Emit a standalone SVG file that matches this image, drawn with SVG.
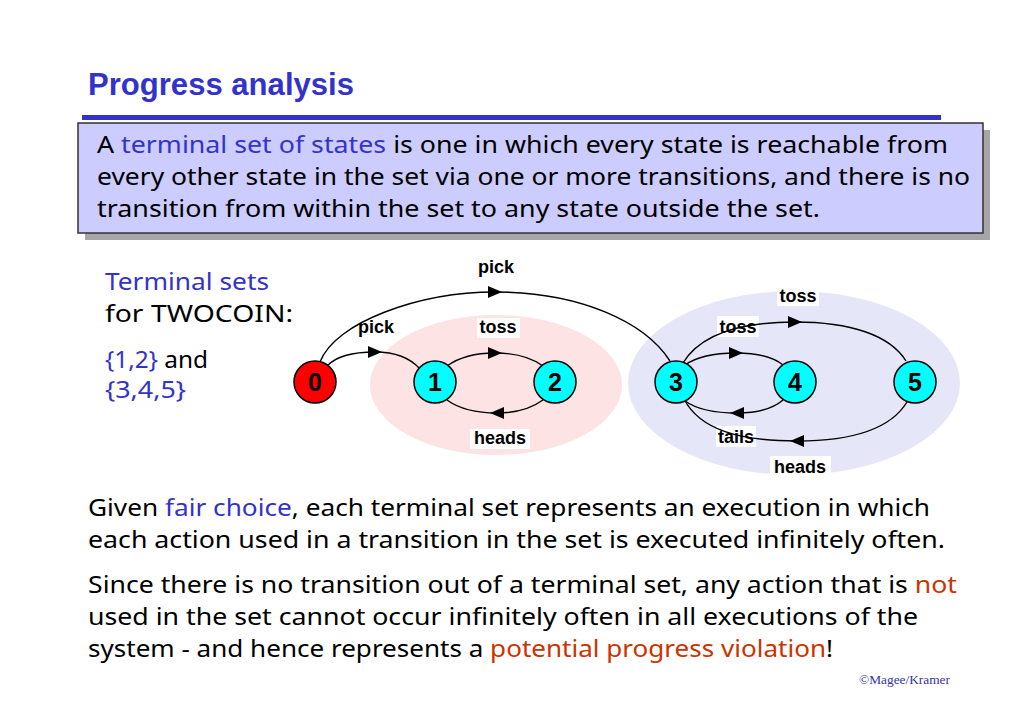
<svg xmlns="http://www.w3.org/2000/svg" width="1023" height="708" viewBox="0 0 1023 708">
<defs>
<marker id="arr" markerUnits="userSpaceOnUse" markerWidth="14" markerHeight="12" refX="7" refY="6" orient="auto" viewBox="0 0 14 12">
<path d="M0,0 L14,6 L0,12 z" fill="#000"/>
</marker>
</defs>
<style>
.body{font-family:"Noto Sans","DejaVu Sans",sans-serif;font-size:23px;fill:#000}
.blue{fill:#3333cc}
.red{fill:#cc3300}
.lbl{font-family:"Liberation Sans",Arial,sans-serif;font-weight:bold;font-size:18px;fill:#000;text-anchor:middle}
.lblbox{fill:#fff}
.edge{fill:none;stroke:#000;stroke-width:1.4;marker-mid:url(#arr)}
.state{stroke:#000;stroke-width:1.5}
.num{font-family:"Liberation Sans",Arial,sans-serif;font-weight:bold;font-size:25px;fill:#000;text-anchor:middle}
</style>
<rect width="1023" height="708" fill="#fff"/>

<g id="title">
<text x="88" y="95" font-family="Liberation Sans, Arial, sans-serif" font-weight="bold" font-size="31" fill="#3333cc" textLength="266" lengthAdjust="spacingAndGlyphs">Progress analysis</text>
<rect x="82" y="115" width="859" height="5" fill="#3333cc"/>
</g>

<g id="definition">
<rect x="85" y="130" width="905" height="110" fill="#a6a6a6"/>
<rect x="78" y="123" width="905" height="110" fill="#ccccff" stroke="#333" stroke-width="1.5"/>
<text class="body" x="97" y="153" textLength="851" lengthAdjust="spacingAndGlyphs">A <tspan class="blue">terminal set of states</tspan> is one in which every state is reachable from</text>
<text class="body" x="97" y="185" textLength="873" lengthAdjust="spacingAndGlyphs">every other state in the set via one or more transitions, and there is no</text>
<text class="body" x="97" y="217" textLength="723" lengthAdjust="spacingAndGlyphs">transition from within the set to any state outside the set.</text>
</g>

<g id="side-text">
<text class="body blue" x="105" y="290" textLength="164" lengthAdjust="spacingAndGlyphs">Terminal sets</text>
<text class="body" x="105" y="322" textLength="188" lengthAdjust="spacingAndGlyphs">for TWOCOIN:</text>
<text class="body" x="105" y="368" textLength="103" lengthAdjust="spacingAndGlyphs"><tspan class="blue">{1,2}</tspan> and</text>
<text class="body blue" x="105" y="398" textLength="81" lengthAdjust="spacingAndGlyphs">{3,4,5}</text>
</g>

<g id="sets">
<ellipse id="set12" cx="496" cy="385" rx="126" ry="70" fill="#fde3e3"/>
<ellipse id="set345" cx="794" cy="383" rx="166" ry="92" fill="#e6e6f9"/>
</g>

<g id="label-boxes">
<rect class="lblbox" x="477" y="318" width="43" height="20"/>
<rect class="lblbox" x="470" y="429" width="60" height="20"/>
<rect class="lblbox" x="777" y="286" width="42" height="20"/>
<rect class="lblbox" x="717" y="316" width="42" height="21"/>
<rect class="lblbox" x="716" y="426" width="40" height="21"/>
<rect class="lblbox" x="770" y="456" width="61" height="22"/>
</g>

<g id="connectors">
<path id="e0-3" class="edge" d="M320,362 C335,322 420,292 495,292 C580,292 645,322 670,361"/>
<path id="e0-1" class="edge" d="M327,366 Q340,352 375,352 Q405,352 420,369"/>
<path id="e1-2" class="edge" d="M447,366 Q465,353 495,353 Q525,353 543,366"/>
<path id="e2-1" class="edge" d="M543,400 Q525,413 497,413 Q465,413 447,400"/>
<path id="e3-4" class="edge" d="M685,365 Q702,353 736,353 Q768,353 783,365"/>
<path id="e4-3" class="edge" d="M783,400 Q768,413 737,413 Q702,413 685,401"/>
<path id="e3-5" class="edge" d="M683,363 C700,335 740,322 795,322 C850,322 890,335 906,361"/>
<path id="e5-3" class="edge" d="M907,402 C890,430 850,441 797,441 C740,441 700,430 684,399"/>
</g>

<g id="edge-labels">
<text class="lbl" x="496" y="273">pick</text>
<text class="lbl" x="376" y="333">pick</text>
<text class="lbl" x="498" y="333">toss</text>
<text class="lbl" x="500" y="444">heads</text>
<text class="lbl" x="798" y="302">toss</text>
<text class="lbl" x="738" y="333">toss</text>
<text class="lbl" x="736" y="443">tails</text>
<text class="lbl" x="800" y="473">heads</text>
</g>

<g id="node0"><circle class="state" cx="315" cy="382" r="21" fill="#ff0000"/><text class="num" x="315" y="391">0</text></g>
<g id="node1"><circle class="state" cx="435" cy="382" r="21" fill="#00ffff"/><text class="num" x="435" y="391">1</text></g>
<g id="node2"><circle class="state" cx="555" cy="382" r="21" fill="#00ffff"/><text class="num" x="555" y="391">2</text></g>
<g id="node3"><circle class="state" cx="676" cy="382" r="21" fill="#00ffff"/><text class="num" x="676" y="391">3</text></g>
<g id="node4"><circle class="state" cx="795" cy="382" r="21" fill="#00ffff"/><text class="num" x="795" y="391">4</text></g>
<g id="node5"><circle class="state" cx="915" cy="382" r="21" fill="#00ffff"/><text class="num" x="915" y="391">5</text></g>

<g id="bottom-text">
<text class="body" x="88" y="516" textLength="842" lengthAdjust="spacingAndGlyphs">Given <tspan class="blue">fair choice</tspan>, each terminal set represents an execution in which</text>
<text class="body" x="88" y="548" textLength="857" lengthAdjust="spacingAndGlyphs">each action used in a transition in the set is executed infinitely often.</text>
<text class="body" x="88" y="593" textLength="869" lengthAdjust="spacingAndGlyphs">Since there is no transition out of a terminal set, any action that is <tspan class="red">not</tspan></text>
<text class="body" x="88" y="625" textLength="830" lengthAdjust="spacingAndGlyphs">used in the set cannot occur infinitely often in all executions of the</text>
<text class="body" x="88" y="657" textLength="745" lengthAdjust="spacingAndGlyphs">system - and hence represents a <tspan class="red">potential progress violation</tspan>!</text>
</g>

<text x="859" y="684" font-family="Liberation Serif, Times New Roman, serif" font-size="12.5" fill="#3333aa" textLength="91" lengthAdjust="spacingAndGlyphs">©Magee/Kramer</text>
</svg>
